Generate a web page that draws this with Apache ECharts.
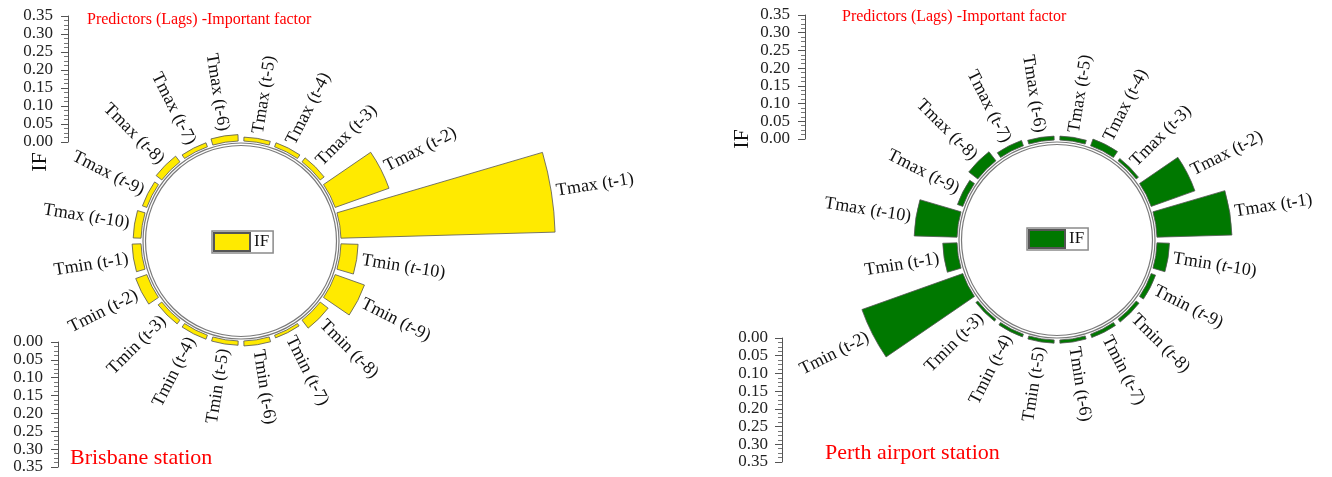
<!DOCTYPE html>
<html>
<head>
<meta charset="utf-8">
<script src="https://cdn.jsdelivr.net/npm/echarts@6/dist/echarts.min.js"></script>
<style>
  html, body { margin: 0; padding: 0; background: #ffffff; }
  #chart { width: 1332px; height: 477px; }
</style>
</head>
<body>
<div id="chart"></div>
<script>
// Lagged predictors, counter-clockwise from the east
const lagLabels = [
  'Tmax (t-1)', 'Tmax (t-2)', 'Tmax (t-3)', 'Tmax (t-4)', 'Tmax (t-5)',
  'Tmax (t-6)', 'Tmax (t-7)', 'Tmax (t-8)', 'Tmax (t-9)', 'Tmax (t-10)',
  'Tmin (t-1)', 'Tmin (t-2)', 'Tmin (t-3)', 'Tmin (t-4)', 'Tmin (t-5)',
  'Tmin (t-6)', 'Tmin (t-7)', 'Tmin (t-8)', 'Tmin (t-9)', 'Tmin (t-10)'
];

// Importance factor (IF) per predictor
const brisbaneIF = [
  0.600, 0.160, 0.014, 0.012, 0.011, 0.018, 0.012, 0.020, 0.013, 0.022,
  0.025, 0.033, 0.013, 0.012, 0.012, 0.014, 0.008, 0.028, 0.087, 0.048
];
const perthIF = [
  0.210, 0.130, 0.008, 0.020, 0.011, 0.011, 0.016, 0.032, 0.016, 0.120,
  0.040, 0.300, 0.007, 0.008, 0.009, 0.009, 0.010, 0.010, 0.013, 0.035
];

// Reference scale bars
const scaleMax = 0.35;
const scaleStep = 0.05;

const titleText = 'Predictors (Lags) -Important factor';
const stationNames = ['Brisbane station', 'Perth airport station'];

const SERIF = '"Liberation Serif", "Times New Roman", serif';
const HOLE = 100;          // inner radius where bars start
const PX_PER_UNIT = 357;   // radial length of one IF unit
const R_MAX = 0.7;
const centers = [[241, 241], [1057, 240]];

function polarsFor(center) {
  return [
    { center: center, radius: [HOLE, HOLE + PX_PER_UNIT * R_MAX] },
    { center: center, radius: [0, 95.5] },
    { center: center, radius: [0, 98] }
  ];
}

function barAngleAxis(polarIndex) {
  return {
    polarIndex, type: 'category', data: lagLabels, startAngle: 0, clockwise: false,
    axisLine: { show: false }, axisTick: { show: false },
    axisLabel: { show: false }, splitLine: { show: false }
  };
}
function ringAngleAxis(polarIndex) {
  return {
    polarIndex, type: 'value', min: 0, max: 360, startAngle: 0,
    axisLine: { show: true, lineStyle: { color: '#7a7a7a', width: 1.2 } },
    axisTick: { show: false }, axisLabel: { show: false }, splitLine: { show: false }
  };
}

// Long lags are typeset with an italic "t"
function richLabel(text) {
  const m = text.match(/^(.*\()t(-(\d+)\))$/);
  if (m && Number(m[3]) >= 8) return m[1] + '{i|t}' + m[2];
  return text;
}

function labelSeries(polarIndex, values) {
  return {
    type: 'custom',
    coordinateSystem: 'polar',
    polarIndex,
    silent: true,
    dimensions: ['radius', 'angle'],
    encode: { radius: 0, angle: 1 },
    data: values.map((v, i) => [v, i]),
    renderItem(params, api) {
      const v = api.value(0);
      const i = params.dataIndex;
      const p = api.coord([v, i]);
      const cs = params.coordSys;
      const ang = Math.atan2(cs.cy - p[1], p[0] - cs.cx);
      const gap = 5;
      const x = p[0] + gap * Math.cos(ang);
      const y = p[1] - gap * Math.sin(ang);
      const outward = Math.cos(ang) > 0;
      return {
        type: 'text',
        x, y,
        rotation: outward ? ang : ang - Math.PI,
        style: {
          text: richLabel(lagLabels[i]),
          fill: '#111',
          fontSize: 18,
          fontFamily: SERIF,
          align: outward ? 'left' : 'right',
          verticalAlign: 'middle',
          rich: {
            i: { fontStyle: 'italic', fontSize: 18, fontFamily: SERIF, fill: '#111' }
          }
        }
      };
    }
  };
}

function scaleAxis(gridIndex, inverse, margin) {
  return {
    gridIndex, type: 'value', min: 0, max: scaleMax, interval: scaleStep, inverse,
    axisLine: { show: true, lineStyle: { color: '#555', width: 1 } },
    axisTick: { show: true, length: 7, lineStyle: { color: '#555' } },
    minorTick: { show: true, splitNumber: 4, length: 4, lineStyle: { color: '#777' } },
    axisLabel: { formatter: v => v.toFixed(2), fontSize: 17, fontFamily: SERIF, color: '#222', margin },
    splitLine: { show: false }
  };
}

const legendBase = {
  orient: 'horizontal',
  itemWidth: 36, itemHeight: 18, itemGap: 4,
  padding: [1, 4, 1, 1],
  borderColor: '#8a8a8a', borderWidth: 1.5,
  backgroundColor: '#fff',
  icon: 'rect',
  formatter: () => 'IF',
  textStyle: { fontSize: 17, fontFamily: SERIF, color: '#111', padding: [0, 0, 0, -1] }
};

const redTitle = (fontSize) => ({ color: '#ff0000', fontSize, fontWeight: 'normal', fontFamily: SERIF });

const option = {
  backgroundColor: '#ffffff',
  animation: false,
  title: [
    { text: titleText, left: 87, top: 12, padding: 0, textStyle: redTitle(16) },
    { text: titleText, left: 842, top: 9, padding: 0, textStyle: redTitle(16) },
    { text: stationNames[0], left: 70, top: 447, padding: 0, textStyle: redTitle(22) },
    { text: stationNames[1], left: 825, top: 442, padding: 0, textStyle: redTitle(22) }
  ],
  legend: [
    Object.assign({}, legendBase, { data: ['Brisbane'], left: 212, top: 231 }),
    Object.assign({}, legendBase, { data: ['Perth'], left: 1027, top: 228 })
  ],
  polar: [].concat(polarsFor(centers[0]), polarsFor(centers[1])),
  angleAxis: [
    barAngleAxis(0), ringAngleAxis(1), ringAngleAxis(2),
    barAngleAxis(3), ringAngleAxis(4), ringAngleAxis(5)
  ],
  radiusAxis: [0, 1, 2, 3, 4, 5].map(k => ({
    polarIndex: k, type: 'value', min: 0, max: (k % 3 === 0) ? R_MAX : 1, show: false,
    axisLine: { show: false }, axisTick: { show: false }, axisLabel: { show: false }, splitLine: { show: false }
  })),
  grid: [
    { left: 68, top: 16, width: 1, height: 126 },
    { left: 58, top: 342, width: 1, height: 125 },
    { left: 805, top: 15, width: 1, height: 124 },
    { left: 782, top: 338, width: 1, height: 124 }
  ],
  xAxis: [0, 1, 2, 3].map(k => ({ gridIndex: k, type: 'value', show: false })),
  yAxis: [scaleAxis(0, false, 15), scaleAxis(1, true, 15), scaleAxis(2, false, 15), scaleAxis(3, true, 14)],
  graphic: [
    { type: 'text', x: 40, y: 162, rotation: Math.PI / 2, style: { text: 'IF', font: '22px ' + SERIF, fill: '#111', align: 'center', verticalAlign: 'middle' } },
    { type: 'text', x: 742, y: 139, rotation: Math.PI / 2, style: { text: 'IF', font: '22px ' + SERIF, fill: '#111', align: 'center', verticalAlign: 'middle' } }
  ],
  series: [
    {
      name: 'Brisbane', type: 'bar', coordinateSystem: 'polar', polarIndex: 0,
      data: brisbaneIF, barCategoryGap: '18%', silent: true,
      itemStyle: { color: '#ffea00', borderColor: '#555', borderWidth: 0.8 }
    },
    {
      name: 'Perth', type: 'bar', coordinateSystem: 'polar', polarIndex: 3,
      data: perthIF, barCategoryGap: '18%', silent: true,
      itemStyle: { color: '#007800', borderColor: '#555', borderWidth: 0.8 }
    },
    labelSeries(0, brisbaneIF),
    labelSeries(3, perthIF)
  ]
};

const chart = echarts.init(document.getElementById('chart'), null, { renderer: 'canvas' });
chart.setOption(option);
</script>
</body>
</html>
